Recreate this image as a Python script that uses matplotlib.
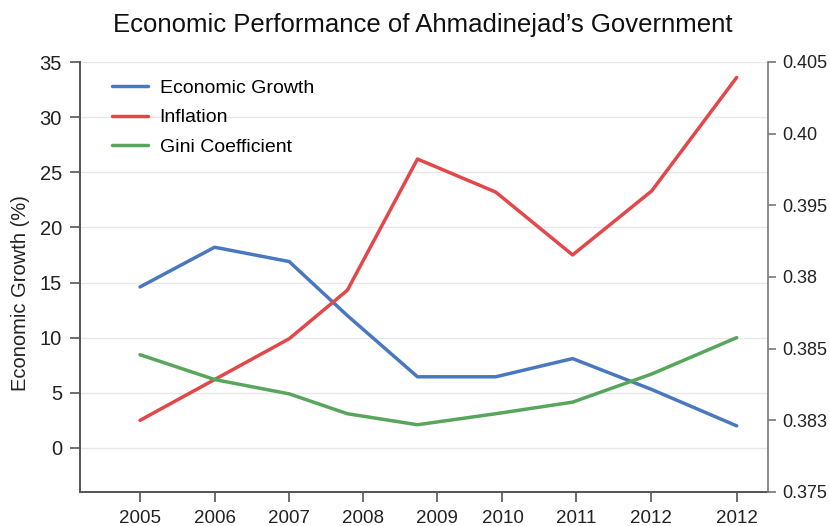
import numpy as np
import matplotlib
matplotlib.use("Agg")
import matplotlib.pyplot as plt

plt.rcParams['font.family'] = ['Liberation Sans', 'DejaVu Sans']

# Positions along the year axis and the labels of the year ticks
x_pos = [0, 1.0, 2.0, 2.78, 3.72, 4.77, 5.80, 6.86, 8.0]
tick_pos = [0, 1.0, 2.0, 2.99, 3.98, 4.86, 5.85, 6.85, 8.0]
tick_labels = ["2005", "2006", "2007", "2008", "2009", "2010", "2011", "2012", "2012"]

economic_growth = [14.6, 18.2, 16.9, 12.0, 6.45, 6.45, 8.1, 5.3, 2.0]
inflation = [2.5, 6.2, 9.9, 14.3, 26.2, 23.2, 17.5, 23.3, 33.6]
gini = [8.45, 6.2, 4.9, 3.1, 2.1, 3.1, 4.15, 6.7, 10.0]

right_ticks = np.linspace(0.375, 0.405, 7)
right_labels = ["0.375", "0.383", "0.385", "0.38", "0.395", "0.40", "0.405"]

fig = plt.figure(figsize=(8.3, 5.26), dpi=100)
ax = fig.add_axes([80 / 830, 1 - 492 / 526, (768 - 80) / 830, (492 - 62) / 526])

ax.plot(x_pos, economic_growth, color="#4A78BE", lw=2.5, label="Economic Growth", solid_capstyle="round")
ax.plot(x_pos, inflation, color="#E2484A", lw=2.5, label="Inflation", solid_capstyle="round")
ax.plot(x_pos, gini, color="#58A65C", lw=2.5, label="Gini Coefficient", solid_capstyle="round")

ax.set_xlim(-0.805, 8.42)
ax.set_ylim(-4, 35)
ax.set_yticks(range(0, 36, 5))
ax.set_xticks(tick_pos)
ax.set_xticklabels(tick_labels)
ax.grid(axis="y", color="#e8e8e8", lw=1)
ax.set_axisbelow(True)
ax.tick_params(axis="x", labelsize=13.5, colors="#222222", pad=6, length=7, width=1.2, color="#555555")
ax.tick_params(axis="y", labelsize=14.5, colors="#222222", pad=6, length=7, width=1.2, color="#555555")
for s in ["top", "right"]:
    ax.spines[s].set_visible(False)
for s in ["left", "bottom"]:
    ax.spines[s].set_color("#555555")
    ax.spines[s].set_linewidth(1.4)
ax.set_ylabel("Economic Growth (%)", fontsize=14.5, color="#222222")
ax.yaxis.set_label_coords(-0.073, 0.463)

ax2 = ax.twinx()
ax2.set_ylim(0.375, 0.405)
ax2.set_yticks(right_ticks)
ax2.set_yticklabels(right_labels)
ax2.tick_params(axis="y", labelsize=13, colors="#222222", color="#777777", length=6, width=1.2, pad=4)
for s in ["top", "left", "bottom"]:
    ax2.spines[s].set_visible(False)
ax2.spines["right"].set_color("#777777")
ax2.spines["right"].set_linewidth(1.2)

ax.legend(loc="upper left", bbox_to_anchor=(0.021, 1.0), frameon=False, fontsize=14,
          handlelength=1.85, handletextpad=0.6, labelspacing=0.6, borderaxespad=0.5)

fig.suptitle("Economic Performance of Ahmadinejad\u2019s Government", x=0.509, y=0.975,
             fontsize=18.5, color="#111111")

fig.savefig("out.png", dpi=100)
